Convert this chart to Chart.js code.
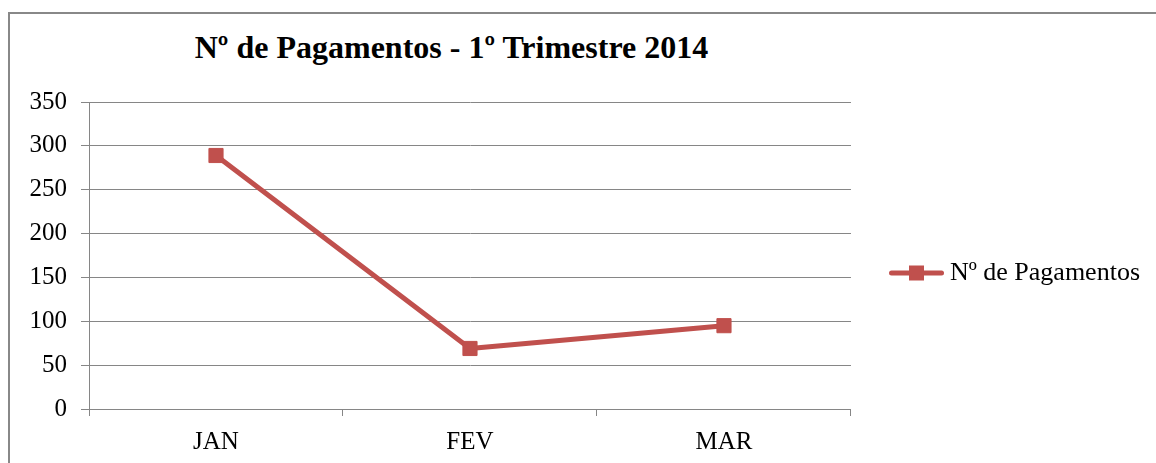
<!DOCTYPE html>
<html>
<head>
<meta charset="utf-8">
<script src="https://cdn.jsdelivr.net/npm/chart.js@4"></script>
<style>
  html, body { margin: 0; padding: 0; background: #fff; overflow: hidden; }
  body { width: 1156px; height: 463px; position: relative; }
  #frame {
    position: absolute; left: 8px; top: 12px; width: 1200px; height: 500px;
    border-left: 2px solid #888; border-top: 2px solid #888;
  }
  #title {
    position: absolute; left: 0; top: 31px; width: 903px; text-align: center;
    font: bold 32px/32px "Liberation Serif", "Times New Roman", serif; color: #000;
    white-space: nowrap;
  }
  #chart { position: absolute; left: 0; top: 0; }
</style>
</head>
<body>
<div id="frame"></div>
<div id="title">Nº de Pagamentos - 1º Trimestre 2014</div>
<canvas id="chart" width="1156" height="463"></canvas>
<script>
// Chart data
const categories = ['JAN', 'FEV', 'MAR'];
const pagamentos = [289, 69, 95];
const seriesLabel = 'Nº de Pagamentos';
const yMin = 0;
const yMax = 350;
const yStep = 50;

const lineColor = '#C0504D';
const axisGray = '#868686';
const serif = "'Liberation Serif', 'Times New Roman', serif";
const tickFont = { family: serif, size: 25 };
const legendFont = { family: serif, size: 26 };

// Legend swatch: short line with a square marker in the middle (Excel style)
function makeSwatch() {
  const c = document.createElement('canvas');
  c.width = 100;
  c.height = 16;
  const g = c.getContext('2d');
  g.strokeStyle = lineColor;
  g.lineWidth = 5;
  g.lineCap = 'round';
  g.beginPath();
  g.moveTo(47.5, 8);
  g.lineTo(97.5, 8);
  g.stroke();
  g.fillStyle = lineColor;
  g.fillRect(65, 0.5, 15, 15);
  return c;
}
const swatch = makeSwatch();

const ctx = document.getElementById('chart').getContext('2d');
new Chart(ctx, {
  type: 'line',
  data: {
    labels: categories,
    datasets: [{
      label: seriesLabel,
      data: pagamentos,
      borderColor: lineColor,
      backgroundColor: lineColor,
      borderWidth: 5,
      borderCapStyle: 'round',
      borderJoinStyle: 'round',
      tension: 0,
      pointStyle: 'rect',
      pointRadius: 10,
      pointBorderWidth: 1,
      pointBorderColor: lineColor,
      pointBackgroundColor: lineColor
    }]
  },
  options: {
    responsive: false,
    animation: false,
    layout: {
      padding: { top: 102, right: 6, bottom: 6, left: 0 }
    },
    plugins: {
      title: { display: false },
      tooltip: { enabled: false },
      legend: {
        position: 'right',
        fullSize: false,
        maxWidth: 400,
        // empty title only pushes the entry down to where Excel put it
        title: { display: true, text: ' ', color: '#000', font: { family: serif, size: 25 }, padding: 2.5 },
        labels: {
          color: '#000',
          font: legendFont,
          padding: 0,
          usePointStyle: true,
          pointStyleWidth: 86,
          generateLabels: () => [{
            text: seriesLabel,
            fontColor: '#000',
            fillStyle: lineColor,
            strokeStyle: lineColor,
            lineWidth: 0,
            pointStyle: swatch,
            hidden: false,
            datasetIndex: 0
          }]
        }
      }
    },
    scales: {
      x: {
        type: 'category',
        offset: true,
        afterFit: (scale) => { scale.height = 48; },
        grid: {
          offset: true,
          drawOnChartArea: false,
          drawTicks: true,
          tickLength: 7,
          color: axisGray,
          lineWidth: 1
        },
        border: { display: true, color: axisGray, width: 1 },
        ticks: { color: '#000', font: tickFont, padding: 11 }
      },
      y: {
        min: yMin,
        max: yMax,
        afterFit: (scale) => { scale.width = 89; },
        grid: {
          color: axisGray,
          lineWidth: 1,
          tickLength: 8
        },
        border: { display: true, color: axisGray, width: 1 },
        ticks: { color: '#000', font: tickFont, padding: 14, stepSize: yStep }
      }
    }
  }
});
</script>
</body>
</html>
